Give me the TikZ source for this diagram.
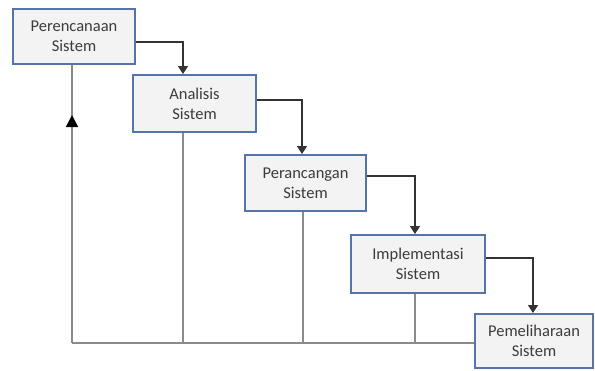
\documentclass[tikz,border=0pt]{standalone}
\usepackage{fontspec}
\setmainfont{Carlito}
\usetikzlibrary{arrows.meta,decorations.markings}
\definecolor{boxblue}{HTML}{5575A8}
\definecolor{boxfill}{HTML}{F3F3F3}
\definecolor{linegray}{HTML}{8A8A8A}
\definecolor{txt}{HTML}{3C3C3C}
\begin{document}
\begin{tikzpicture}[x=1bp,y=-1bp,
  stage/.style={draw=boxblue,line width=2bp,fill=boxfill,inner sep=0pt,
    align=center,text=txt,font=\fontsize{16.5bp}{20bp}\selectfont},
  flow/.style={draw=black!80,line width=1.6bp,-{Triangle[width=10bp,length=8bp]}},
  back/.style={draw=linegray,line width=1.6bp}]
\useasboundingbox (0,0) rectangle (595,370);
% stages
\node[stage,minimum width=122bp,minimum height=55bp] (b1) at (74,36.5) {Perencanaan\\Sistem};
\node[stage,minimum width=123bp,minimum height=57bp] (b2) at (194.5,103.5) {Analisis\\Sistem};
\node[stage,minimum width=121bp,minimum height=56bp] (b3) at (305.5,183) {Perancangan\\Sistem};
\node[stage,minimum width=134bp,minimum height=58bp] (b4) at (418,264) {Implementasi\\Sistem};
\node[stage,minimum width=118bp,minimum height=54bp] (b5) at (534,341) {Pemeliharaan\\Sistem};
\coordinate (c0) at ([xshift=-2bp,yshift=-2bp]b1.south |- b5.west);
% feedback lines
\draw[back] ([xshift=-11.5bp]b2.south) -- ([xshift=-11.5bp]b2.south |- c0);
\draw[back] ([xshift=-2.5bp]b3.south) -- ([xshift=-2.5bp]b3.south |- c0);
\draw[back] ([xshift=-3bp]b4.south) -- ([xshift=-3bp]b4.south |- c0);
\draw[back] (c0) -- (c0 -| b5.west);
\draw[back,postaction={decorate},decoration={markings,
  mark=at position 0.82 with {\arrow{Triangle[width=12bp,length=12bp,black]}}}]
  (c0) -- (c0 |- b1.south);
% forward arrows
\draw[flow] ([yshift=-5.5bp]b1.east) -| ([xshift=-11.5bp]b2.north);
\draw[flow] ([yshift=3.5bp]b2.east) -| ([xshift=-3.5bp]b3.north);
\draw[flow] ([yshift=7bp]b3.east) -| ([xshift=-3bp]b4.north);
\draw[flow] ([yshift=6bp]b4.east) -| ([xshift=-1bp]b5.north);
\end{tikzpicture}
\end{document}
